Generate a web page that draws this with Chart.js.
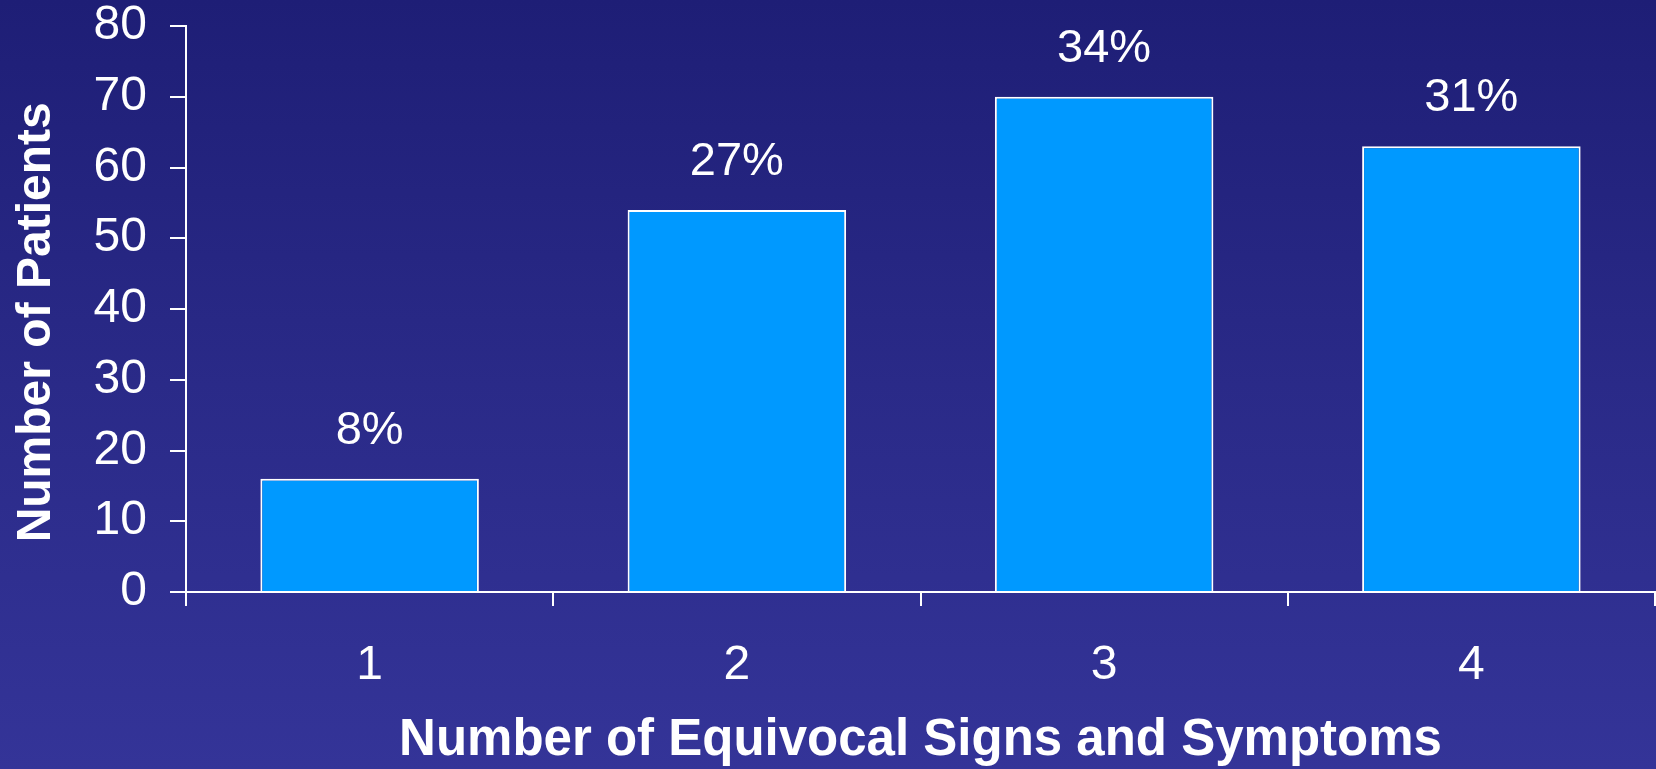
<!DOCTYPE html>
<html>
<head>
<meta charset="utf-8">
<script src="https://cdn.jsdelivr.net/npm/chart.js@4/dist/chart.umd.min.js"></script>
<style>
  html, body { margin: 0; padding: 0; }
  body {
    width: 1656px; height: 769px; overflow: hidden;
    background: linear-gradient(to bottom, #1e1e76 0%, #2a2a88 50%, #343498 100%);
  }
  #wrap { position: relative; width: 1656px; height: 769px; }
</style>
</head>
<body>
<div id="wrap"><canvas id="myChart"></canvas></div>
<script>
let categories = ['1', '2', '3', '4'];
let patients = [16, 54, 70, 63];
let shareLabels = ['8%', '27%', '34%', '31%'];
let yTicks = [0, 10, 20, 30, 40, 50, 60, 70, 80];

const fontFamily = '"Liberation Sans", Arial, sans-serif';

// percentage text above each bar
const barLabels = {
  id: 'barLabels',
  afterDatasetsDraw(chart) {
    const ctx = chart.ctx;
    const meta = chart.getDatasetMeta(0);
    ctx.save();
    ctx.fillStyle = '#ffffff';
    ctx.font = '47px ' + fontFamily;
    ctx.textAlign = 'center';
    ctx.textBaseline = 'alphabetic';
    meta.data.forEach((bar, i) => {
      ctx.fillText(shareLabels[i], bar.x, bar.y - 35);
    });
    ctx.restore();
  }
};

let ctx = document.getElementById('myChart').getContext('2d');

let myChart = new Chart(ctx, {
  type: 'bar',
  data: {
    labels: categories,
    datasets: [{
      data: patients,
      backgroundColor: '#0099ff',
      borderColor: '#ffffff',
      borderWidth: 2,
      barPercentage: 0.595,
      categoryPercentage: 1
    }]
  },
  plugins: [barLabels],
  options: {
    responsive: true,
    maintainAspectRatio: false,
    animation: false,
    layout: { padding: { top: 26, right: 1, left: 0, bottom: 0 } },
    plugins: {
      legend: { display: false },
      tooltip: { enabled: false }
    },
    scales: {
      x: {
        afterFit: (scale) => { scale.height = 177; },
        grid: {
          offset: true,
          drawOnChartArea: false,
          drawTicks: true,
          tickLength: 14,
          color: '#ffffff',
          lineWidth: 2
        },
        border: { display: true, color: '#ffffff', width: 2 },
        ticks: {
          color: '#ffffff',
          padding: 36,
          font: { family: fontFamily, size: 48, lineHeight: 1.0 }
        },
        title: {
          display: true,
          text: 'Number of Equivocal Signs and Symptoms',
          color: '#ffffff',
          padding: { top: 0, bottom: 0 },
          font: { family: fontFamily, size: 51, weight: 'bold', lineHeight: 1.1 }
        }
      },
      y: {
        min: 0,
        max: 80,
        afterFit: (scale) => {
          scale.width = 186;
          // keep the top label from pushing the plot area down
          scale.paddingTop = 0;
          scale.paddingBottom = 0;
        },
        afterBuildTicks: (scale) => { scale.ticks = yTicks.map(v => ({ value: v })); },
        grid: {
          drawOnChartArea: false,
          drawTicks: true,
          tickLength: 16,
          color: '#ffffff',
          lineWidth: 2
        },
        border: { display: true, color: '#ffffff', width: 2 },
        ticks: {
          color: '#ffffff',
          padding: 23,
          font: { family: fontFamily, size: 48, lineHeight: 1.0 }
        },
        title: {
          display: true,
          // trailing spaces nudge the rotated title a little lower
          text: 'Number of Patients  ',
          color: '#ffffff',
          padding: { top: 8, bottom: 0 },
          font: { family: fontFamily, size: 48, weight: 'bold', lineHeight: 1.2 }
        }
      }
    }
  }
});
</script>
</body>
</html>
